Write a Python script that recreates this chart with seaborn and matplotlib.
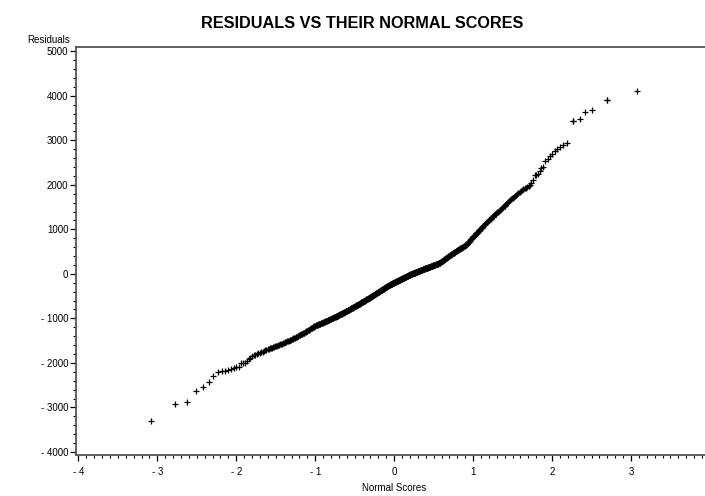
import statistics

import matplotlib
matplotlib.use("Agg")
import matplotlib.pyplot as plt
from matplotlib import font_manager
from matplotlib.ticker import FixedLocator, MultipleLocator, FuncFormatter
import pandas as pd
import seaborn as sns

# Sorted residuals from the regression fit (n = 600)
residuals = [
    -3300, -2920, -2875, -2635, -2530, -2420, -2285, -2210,
    -2187, -2173, -2157, -2140, -2120, -2100, -2083,
    -2010, -2007, -2005, -1960, -1920, -1895,
    -1840, -1826, -1813, -1799, -1785, -1772, -1758, -1745, -1731, -1717, -1704, -1690,
    -1681, -1672, -1663, -1654, -1645, -1636, -1627, -1618, -1609, -1600, -1591, -1582, -1573,
    -1565, -1556, -1548, -1540, -1532, -1523, -1515, -1507, -1499, -1490,
    -1482, -1474, -1466, -1457, -1449, -1441, -1433, -1424, -1416, -1408,
    -1400, -1391, -1383, -1375, -1367, -1358, -1350, -1342, -1334, -1325,
    -1317, -1309, -1301, -1292, -1284, -1276, -1268, -1259, -1251, -1243,
    -1235, -1226, -1218, -1210, -1202, -1193, -1185, -1177, -1169, -1160,
    -1155, -1150, -1146, -1141, -1136, -1131, -1127, -1122, -1117, -1112,
    -1107, -1103, -1098, -1093, -1088, -1084, -1079, -1074, -1069, -1064,
    -1060, -1055, -1050, -1045, -1041, -1036, -1031, -1026, -1021, -1017,
    -1012, -1007, -1002, -998, -993, -988, -983, -978, -974, -969,
    -964, -959, -955, -950, -945, -940, -935, -931, -926, -921,
    -916, -911, -907, -902, -897, -892, -887, -882, -878, -873,
    -868, -863, -858, -854, -849, -844, -839, -834, -830, -825,
    -820, -815, -810, -806, -801, -796, -791, -786, -781, -777,
    -772, -767, -762, -757, -753, -748, -743, -738, -733, -729,
    -724, -719, -714, -709, -705, -700, -695, -690, -685, -680,
    -676, -671, -666, -661, -656, -652, -647, -642, -637, -632,
    -628, -623, -618, -613, -608, -604, -599, -594, -589, -584,
    -579, -574, -570, -565, -560, -555, -550, -545, -541, -536,
    -531, -526, -521, -517, -512, -507, -502, -497, -493, -488,
    -483, -478, -473, -469, -464, -459, -454, -449, -444, -440,
    -435, -430, -425, -420, -416, -411, -406, -401, -396, -392,
    -387, -382, -377, -372, -368, -363, -358, -353, -348, -343,
    -339, -334, -329, -324, -319, -315, -310, -305, -300, -295,
    -291, -286, -281, -276, -271, -267, -262, -257, -252, -247,
    -243, -240, -236, -232, -228, -225, -221, -217, -213, -210,
    -206, -202, -198, -195, -191, -187, -183, -180, -176, -172,
    -168, -165, -161, -157, -153, -150, -146, -142, -138, -135,
    -131, -127, -123, -120, -116, -112, -108, -105, -101, -97,
    -93, -90, -86, -82, -78, -75, -71, -67, -63, -60,
    -56, -52, -48, -45, -41, -37, -33, -30, -26, -22,
    -19, -16, -13, -10, -6, -3, 0, 3, 6, 9,
    12, 15, 19, 22, 25, 28, 31, 34, 37, 40,
    43, 47, 50, 53, 56, 59, 62, 65, 68, 72,
    75, 78, 81, 84, 87, 90, 93, 97, 100, 103,
    106, 109, 112, 115, 118, 121, 125, 128, 131, 134,
    137, 140, 143, 146, 150, 153, 156, 159, 162, 165,
    168, 171, 175, 178, 181, 184, 187, 190, 193, 196,
    200, 203, 206, 209, 212, 215, 218, 221, 224, 228,
    231, 234, 237, 240,
    247, 253, 260, 267, 273, 280, 287, 293, 300, 306,
    313, 320, 326, 333, 340, 346, 353, 360, 366, 373,
    380, 386, 393, 399, 406, 413, 419, 426, 433, 439,
    446, 453, 459, 466, 473, 479, 486, 492, 499, 506,
    512, 519, 526, 532, 539, 546, 552, 559, 566, 572,
    579, 585, 592, 599, 605, 612, 619, 625, 632, 639,
    645, 652,
    666, 679, 693, 706, 720, 734, 747, 761, 774, 788,
    801, 815, 829, 842, 856, 869, 883, 897, 910, 924,
    937, 951,
    966, 980, 995, 1010, 1024, 1039, 1054, 1068, 1083, 1098,
    1112, 1127, 1141, 1156, 1171, 1185, 1200, 1215, 1229, 1244,
    1259, 1273, 1288,
    1304, 1319, 1335, 1351, 1366, 1382, 1398, 1413, 1429, 1445, 1460, 1476,
    1496, 1516, 1536, 1556, 1576, 1596, 1616, 1635, 1655, 1675, 1695, 1715, 1735, 1755, 1775,
    1795, 1816, 1836, 1857, 1877, 1898, 1918, 1939, 1959, 1980, 2000,
    2040, 2100, 2225, 2230, 2235, 2300, 2380, 2411, 2540, 2580,
    2640, 2700, 2760, 2800, 2860, 2890, 2936,
    3445, 3445, 3476, 3633, 3670, 3910, 3910, 4112,
]

x_ticks = [-4, -3, -2, -1, 0, 1, 2, 3]
y_ticks = [-4000, -3000, -2000, -1000, 0, 1000, 2000, 3000, 4000, 5000]

title_text = "RESIDUALS VS THEIR NORMAL SCORES"
x_title = "Normal Scores"
y_title = "Residuals"

# Blom normal scores, tied residuals share the mean rank
df = pd.DataFrame({"residual": residuals})
n = len(df)
ranks = df["residual"].rank(method="average")
nd = statistics.NormalDist()
df["score"] = [nd.inv_cdf((r - 0.375) / (n + 0.25)) for r in ranks]

sns.set_theme(style="white")
installed = {f.name for f in font_manager.fontManager.ttflist}
base_font = "Liberation Sans" if "Liberation Sans" in installed else "DejaVu Sans"
plt.rcParams["font.family"] = [base_font, "DejaVu Sans"]
plt.rcParams["text.color"] = "black"

fig = plt.figure(figsize=(7.05, 4.96), dpi=100)
ax = fig.add_axes([0.1078, 0.0817, 0.8922, 0.8236])

sns.scatterplot(data=df, x="score", y="residual", ax=ax, marker="+",
                color="black", s=22, linewidth=0.9, legend=False)

ax.set_xlim(-4.03, 3.937)
ax.set_ylim(-4079, 5097)

ax.xaxis.set_major_locator(FixedLocator(x_ticks))
ax.xaxis.set_minor_locator(MultipleLocator(0.1))
ax.yaxis.set_major_locator(FixedLocator(y_ticks))
ax.yaxis.set_minor_locator(MultipleLocator(200))


def sas_label(v, pos=None):
    v = int(round(v))
    return f"- {abs(v)}" if v < 0 else f"{v}"


ax.xaxis.set_major_formatter(FuncFormatter(sas_label))
ax.yaxis.set_major_formatter(FuncFormatter(sas_label))

ax.tick_params(axis="both", which="major", direction="out", length=4,
               width=0.9, color="black", labelsize=7, labelcolor="black")
ax.tick_params(axis="both", which="minor", direction="out", length=2,
               width=0.8, color="black")
ax.tick_params(axis="x", which="major", pad=4.5)
ax.tick_params(axis="y", which="major", pad=1.5)
ax.tick_params(axis="x", which="both", bottom=True, top=False)
ax.tick_params(axis="y", which="both", left=True, right=False)

for side in ("left", "bottom", "top"):
    ax.spines[side].set_visible(True)
    ax.spines[side].set_color("#555555")
    ax.spines[side].set_linewidth(1.3)
ax.spines["right"].set_visible(False)

ax.set_xlabel("")
ax.set_ylabel("")

fig.text(0.514, 0.953, title_text, ha="center", va="center", color="black",
         fontsize=11.7, fontweight="bold")
fig.text(0.559, 0.016, x_title, ha="center", va="center", fontsize=7,
         color="black")
fig.text(0.100, 0.909, y_title, ha="right", va="bottom", fontsize=7,
         color="black")

fig.savefig("out.png", dpi=100)
